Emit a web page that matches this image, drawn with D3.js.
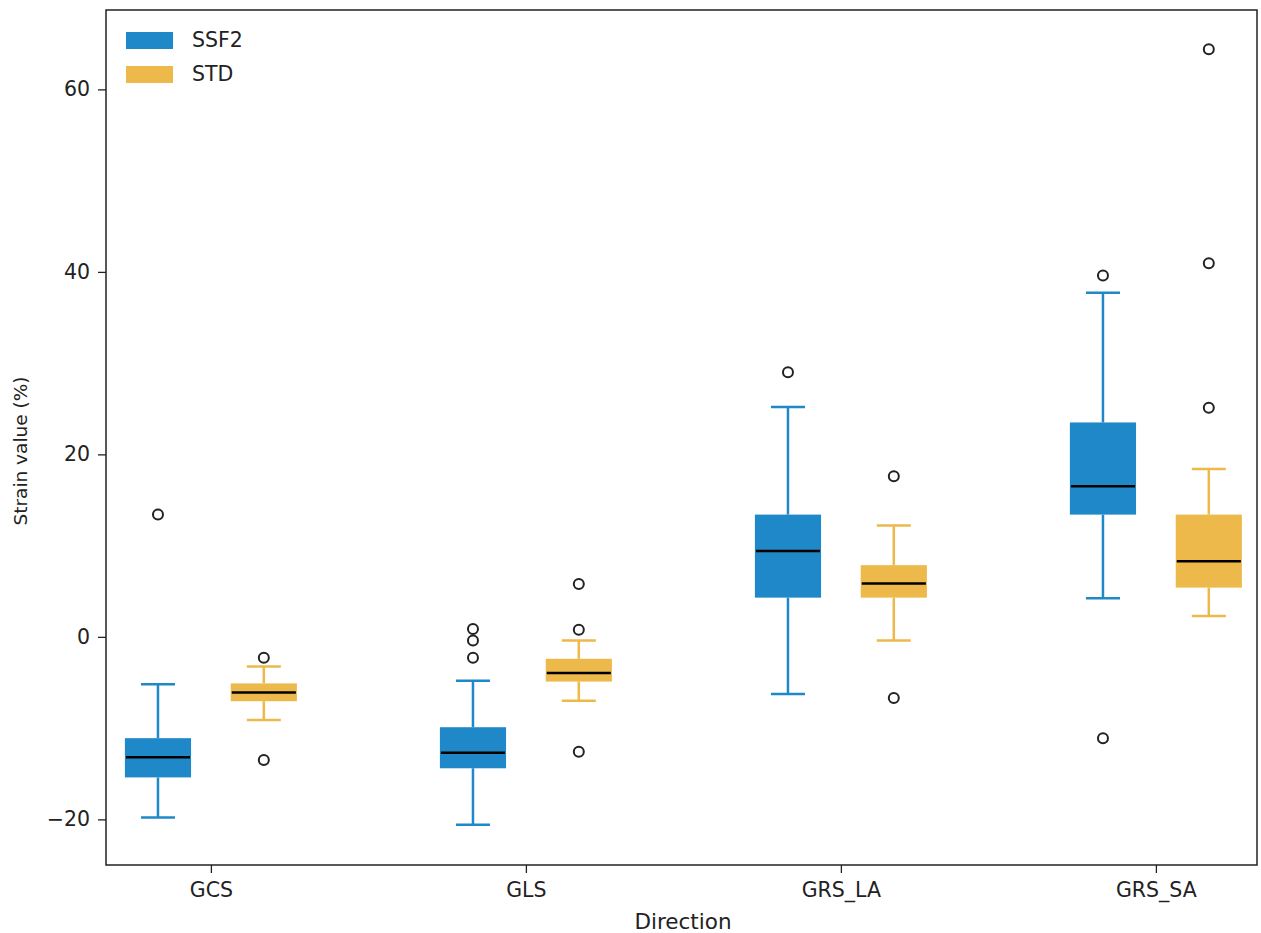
<!DOCTYPE html>
<html>
<head>
<meta charset="utf-8">
<script src="https://cdn.jsdelivr.net/npm/d3@7"></script>
<style>
  body { margin: 0; background: #fff; }
  svg text { font-family: "DejaVu Sans", sans-serif; }
</style>
</head>
<body>
<svg id="chart"></svg>
<script>
// directions and groups
var categories = ["GCS", "GLS", "GRS_LA", "GRS_SA"]
var groups = ["SSF2", "STD"]
var colors = ["#1f88c8", "#edb94a"]

// box stats per category: [whiskerLow, q1, median, q3, whiskerHigh]
var ssf2Stats = [
  [-19.8, -15.4, -13.2, -11.1, -5.2],
  [-20.6, -14.4, -12.7, -9.9, -4.8],
  [-6.25, 4.3, 9.4, 13.4, 25.2],
  [4.24, 13.4, 16.5, 23.5, 37.7]
]
var stdStats = [
  [-9.1, -7.05, -6.1, -5.1, -3.25],
  [-7.0, -4.9, -3.95, -2.4, -0.4],
  [-0.4, 4.3, 5.84, 7.86, 12.2],
  [2.3, 5.4, 8.3, 13.4, 18.4]
]
var ssf2Outliers = [[13.4], [0.87, -0.4, -2.3], [29.0], [39.6, -11.1]]
var stdOutliers = [[-2.3, -13.5], [5.8, 0.77, -12.6], [17.6, -6.7], [64.4, 40.95, 25.1]]

var yTicks = [-20, 0, 20, 40, 60]

var width = 1261, height = 933
var margin = ({top: 10, right: 4, bottom: 68, left: 106})

var svg = d3.select("#chart").attr("width", width).attr("height", height)

var x = d3.scaleLinear()
  .domain([-0.333, 3.321])
  .range([margin.left, width - margin.right])

var y = d3.scaleLinear()
  .domain([-25, 68.7])
  .range([height - margin.bottom, margin.top])

var offset = 0.168, boxW = 0.21, capW = 0.108

var series = [
  {name: groups[0], color: colors[0], stats: ssf2Stats, outliers: ssf2Outliers, off: -offset},
  {name: groups[1], color: colors[1], stats: stdStats, outliers: stdOutliers, off: offset}
]

series.forEach(s => {
  var g = svg.append("g")
  var rows = s.stats.map((st, i) => ({i: i, lo: st[0], q1: st[1], med: st[2], q3: st[3], hi: st[4], out: s.outliers[i]}))
  var cx = d => x(d.i + s.off)

  // whiskers
  g.selectAll(".wl").data(rows).join("line")
    .attr("x1", cx).attr("x2", cx)
    .attr("y1", d => y(d.lo)).attr("y2", d => y(d.q1))
    .attr("stroke", s.color).attr("stroke-width", 2.5)
  g.selectAll(".wh").data(rows).join("line")
    .attr("x1", cx).attr("x2", cx)
    .attr("y1", d => y(d.hi)).attr("y2", d => y(d.q3))
    .attr("stroke", s.color).attr("stroke-width", 2.5)
  // caps
  ;["lo", "hi"].forEach(k => {
    g.selectAll(".cap" + k).data(rows).join("line")
      .attr("x1", d => x(d.i + s.off - capW / 2)).attr("x2", d => x(d.i + s.off + capW / 2))
      .attr("y1", d => y(d[k])).attr("y2", d => y(d[k]))
      .attr("stroke", s.color).attr("stroke-width", 2.5)
  })
  // boxes
  g.selectAll("rect").data(rows).join("rect")
    .attr("x", d => x(d.i + s.off - boxW / 2))
    .attr("width", x(boxW) - x(0))
    .attr("y", d => y(d.q3))
    .attr("height", d => y(d.q1) - y(d.q3))
    .attr("fill", s.color)
  // medians
  g.selectAll(".med").data(rows).join("line")
    .attr("x1", d => x(d.i + s.off - boxW / 2) + 1).attr("x2", d => x(d.i + s.off + boxW / 2) - 1)
    .attr("y1", d => y(d.med)).attr("y2", d => y(d.med))
    .attr("stroke", "#000").attr("stroke-width", 2.5)
  // outliers
  g.selectAll("circle").data(rows.flatMap(d => d.out.map(v => ({i: d.i, v: v})))).join("circle")
    .attr("cx", cx).attr("cy", d => y(d.v)).attr("r", 5)
    .attr("fill", "none").attr("stroke", "#222").attr("stroke-width", 2)
})

// axes
var xAxis = svg.append("g")
  .attr("transform", `translate(0,${height - margin.bottom})`)
  .call(d3.axisBottom(x).tickValues(d3.range(categories.length)).tickFormat(i => categories[i]).tickSize(8).tickPadding(9))
xAxis.select(".domain").remove()

var yAxis = svg.append("g")
  .attr("transform", `translate(${margin.left},0)`)
  .call(d3.axisLeft(y).tickValues(yTicks).tickFormat(d => d < 0 ? "\u2212" + Math.abs(d) : d).tickSize(8).tickPadding(8))
yAxis.select(".domain").remove()

svg.selectAll(".tick text").attr("font-size", 20.5).attr("fill", "#222")
svg.selectAll(".tick line").attr("stroke", "#222").attr("stroke-width", 1.3)

// frame
svg.append("rect")
  .attr("x", margin.left).attr("y", margin.top)
  .attr("width", width - margin.left - margin.right)
  .attr("height", height - margin.top - margin.bottom)
  .attr("fill", "none").attr("stroke", "#222").attr("stroke-width", 1.5)

// labels
svg.append("text")
  .attr("x", 683).attr("y", 929)
  .attr("text-anchor", "middle").attr("font-size", 21.5).attr("fill", "#222")
  .text("Direction")

svg.append("text")
  .attr("transform", "translate(27,451) rotate(-90)")
  .attr("text-anchor", "middle").attr("font-size", 18.5).attr("fill", "#222")
  .text("Strain value (%)")

// legend
var legend = svg.append("g").attr("transform", "translate(126,32)")
series.forEach((s, i) => {
  legend.append("rect").attr("x", 0).attr("y", i * 34).attr("width", 47).attr("height", 17).attr("fill", s.color)
  legend.append("text").attr("x", 66).attr("y", i * 34 + 15).attr("font-size", 20.5).attr("fill", "#222").text(s.name)
})
</script>
</body>
</html>
